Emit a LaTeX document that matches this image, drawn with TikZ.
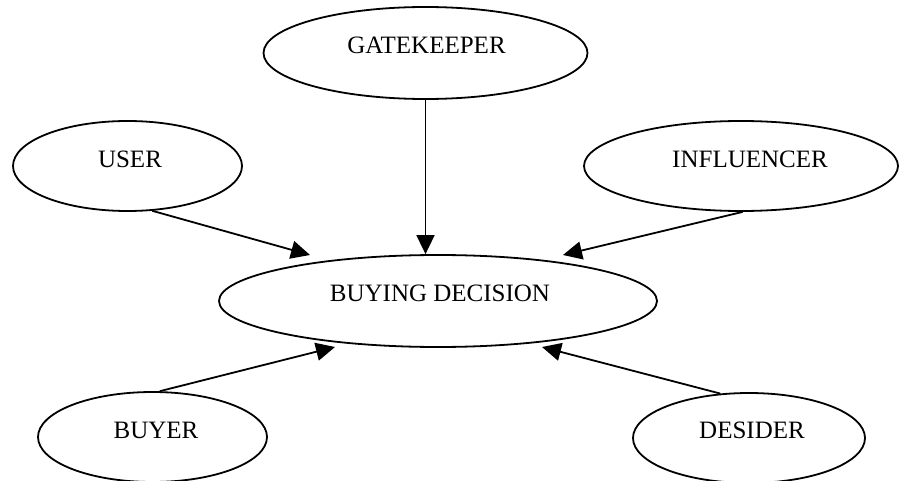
\documentclass[tikz,border=0pt]{standalone}
\usepackage{fontspec}
\setmainfont{Liberation Serif}
\usetikzlibrary{shapes.geometric,arrows.meta}
\begin{document}
\begin{tikzpicture}[x=1pt,y=-1pt,
  oval/.style={ellipse,draw,line width=1.8pt,inner sep=0pt},
  lbl/.style={font=\fontsize{25}{30}\selectfont,inner sep=0pt},
  arr/.style={line width=1.8pt,-{Triangle[length=19pt,width=18pt]}}]
\useasboundingbox (0,0) rectangle (899,481);
% ellipses
\node[oval,minimum width=324pt,minimum height=92pt] (gate) at (425.5,53) {};
\node[oval,minimum width=229pt,minimum height=90pt] (user) at (127.5,166) {};
\node[oval,minimum width=314pt,minimum height=90pt] (infl) at (741,166) {};
\node[oval,minimum width=438pt,minimum height=92pt] (bd) at (438,301) {};
\node[oval,minimum width=229pt,minimum height=90pt] (buyer) at (152.5,437) {};
\node[oval,minimum width=232pt,minimum height=90pt] (desider) at (749,438) {};
% labels
\node[lbl] (gatel) at (426.5,45) {GATEKEEPER};
\node[lbl] (userl) at (130,159.5) {USER};
\node[lbl] (infll) at (750,159.5) {INFLUENCER};
\node[lbl] (bdl) at (440,293.5) {BUYING DECISION};
\node[lbl] (buyerl) at (156,430) {BUYER};
\node[lbl] (desiderl) at (752,430) {DESIDER};
% arrow tips (free ends near the central ellipse)
\coordinate (tipU) at (310,255);
\coordinate (tipI) at (563,255);
\coordinate (tipB) at (335,347);
\coordinate (tipD) at (542,347);
% connectors
\draw[arr] (gate.south) -- (gate.south |- bd.north);
\draw[arr] (user.-61) -- (tipU);
\draw[arr] (infl.-88) -- (tipI);
\draw[arr] (buyer.81) -- (tipB);
\draw[arr] (desider.123) -- (tipD);
\end{tikzpicture}
\end{document}
